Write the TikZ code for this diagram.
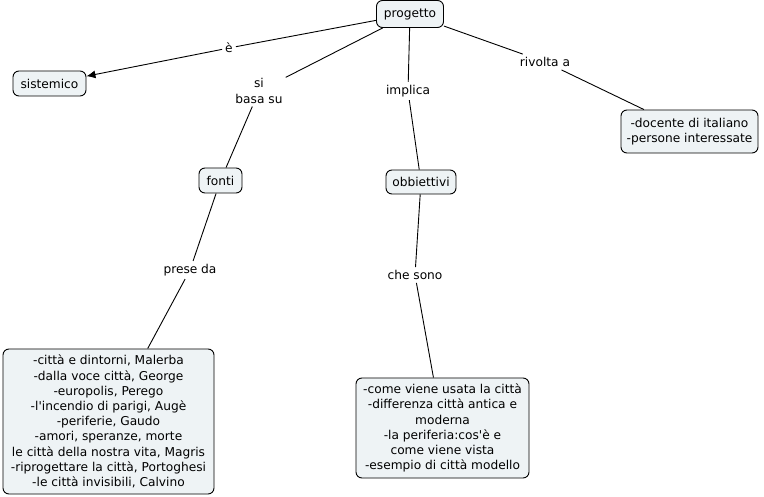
\documentclass[tikz,border=0pt]{standalone}
\usepackage{fontspec}
\setmainfont{DejaVu Sans}
\usetikzlibrary{arrows.meta}
\definecolor{boxfill}{RGB}{238,243,245}
\begin{document}
\begin{tikzpicture}[x=1pt,y=-1pt,
  concept/.style={draw=black,fill=boxfill,rounded corners=6pt,line width=0.9pt,align=center,inner sep=0pt,font=\fontsize{12.2}{15.2}\selectfont},
  linking/.style={align=center,inner sep=3pt,font=\fontsize{12.2}{15.2}\selectfont},
  conn/.style={line width=0.9pt}]
\useasboundingbox[fill=white] (0,0) rectangle (764,497);
\node[concept,minimum width=67,minimum height=27] (prog) at (410,14) {progetto};
\node[concept,minimum width=73,minimum height=25] (sist) at (49.5,83.5) {sistemico};
\node[concept,minimum width=43,minimum height=25] (fonti) at (220.5,180.5) {fonti};
\node[concept,minimum width=70,minimum height=24] (obb) at (421,182) {obbiettivi};
\node[concept,minimum width=137,minimum height=43] (doc) at (689.5,131.5) {-docente di italiano\\-persone interessate};
\node[concept,minimum width=211,minimum height=145] (flist) at (108.5,421.5) {-città e dintorni, Malerba\\-dalla voce città, George\\-europolis, Perego\\-l\textquotesingle incendio di parigi, Augè\\-periferie, Gaudo\\-amori, speranze, morte\\le città della nostra vita, Magris\\-riprogettare la città, Portoghesi\\-le città invisibili, Calvino};
\node[concept,minimum width=173,minimum height=100] (olist) at (442.5,428) {-come viene usata la città\\-differenza città antica e\\moderna\\-la periferia:cos\textquotesingle è e\\come viene vista\\-esempio di città modello};
\node[linking] (e) at (229,48) {è};
\node[linking] (basa) at (259,91) {si\\basa su};
\node[linking] (impl) at (408,91) {implica};
\node[linking] (riv) at (545,62) {rivolta a};
\node[linking] (prese) at (190,270) {prese da};
\node[linking] (che) at (415,275) {che sono};
\draw[conn] (prog) -- (e);
\draw[conn,-{Latex[length=9pt,width=8pt]}] (e) -- (sist);
\draw[conn] (prog) -- (basa);
\draw[conn] (basa) -- (fonti);
\draw[conn] (prog) -- (impl);
\draw[conn] (impl) -- (obb);
\draw[conn] (prog) -- (riv);
\draw[conn] (riv) -- (doc);
\draw[conn] (fonti) -- (prese);
\draw[conn] (prese) -- (flist);
\draw[conn] (obb) -- (che);
\draw[conn] (che) -- (olist);
\end{tikzpicture}
\end{document}
